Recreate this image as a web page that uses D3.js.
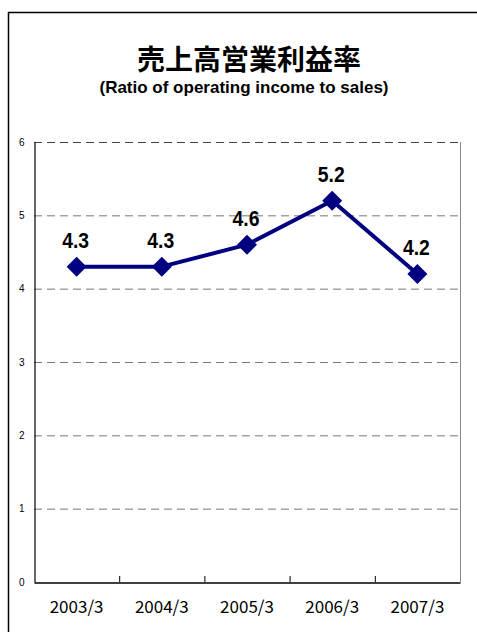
<!DOCTYPE html>
<html><head><meta charset="utf-8">
<script src="https://cdn.jsdelivr.net/npm/d3@7"></script>
<style>body{margin:0;background:#fff;}svg{display:block;}</style>
</head><body>
<script>
const categories = ["2003/3","2004/3","2005/3","2006/3","2007/3"];
const values = [4.3,4.3,4.6,5.2,4.2];
const valueLabels = ["4.3","4.3","4.6","5.2","4.2"];
const yTicks = [0,1,2,3,4,5,6];
const title = "売上高営業利益率";
const subtitle = "(Ratio of operating income to sales)";

const W=477,H=632;
const svg=d3.select("body").append("svg").attr("width",W).attr("height",H);
svg.append("rect").attr("x",8.5).attr("y",12.5).attr("width",W+20).attr("height",H+20)
  .attr("fill","#fff").attr("stroke","#000").attr("stroke-width",1.5);

const L=34,R=460,T=142,B=582;
const x=d3.scaleBand().domain(categories).range([L,R]);
const y=d3.scaleLinear().domain([0,6]).range([B,T]);

svg.append("text").attr("x",249).attr("y",70).attr("text-anchor","middle")
  .attr("font-family","Noto Sans CJK JP").attr("font-weight","bold").attr("font-size",28).text(title);
svg.append("text").attr("x",244).attr("y",93).attr("text-anchor","middle")
  .attr("font-family","Liberation Sans").attr("font-weight","bold").attr("font-size",17).text(subtitle);

// gridlines
svg.append("g").selectAll("line").data(yTicks.filter(d=>d>0)).join("line")
  .attr("x1",L).attr("x2",R).attr("y1",d=>y(d)+0.5).attr("y2",d=>y(d)+0.5)
  .attr("stroke",d=>d===6?"#444":"#777").attr("stroke-width",1).attr("stroke-dasharray","8,5");
// right border
svg.append("line").attr("x1",R+0.5).attr("x2",R+0.5).attr("y1",T).attr("y2",B).attr("stroke","#888");

// y axis
const ya=svg.append("g").attr("transform",`translate(${L+0.5},0)`)
  .call(d3.axisLeft(y).tickValues(yTicks).tickSize(0).tickPadding(10).tickFormat(d3.format("d")));
ya.select(".domain").attr("stroke","#000").attr("stroke-width",1.2);
ya.selectAll("text").attr("font-family","Liberation Sans").attr("font-size",10).attr("fill","#000");

// x axis
const xa=svg.append("g").attr("transform",`translate(0,${B+0.5})`)
  .call(d3.axisBottom(x).tickSize(0).tickPadding(18));
xa.select(".domain").attr("stroke","#000").attr("stroke-width",1.5);
xa.selectAll("text").attr("font-family","Noto Sans CJK JP").attr("font-size",17).attr("fill","#000");
svg.append("g").selectAll("line").data(categories.slice(1)).join("line")
  .attr("x1",d=>x(d)+0.5).attr("x2",d=>x(d)+0.5).attr("y1",B).attr("y2",B-6)
  .attr("stroke","#000");

const cx=d=>x(d)+x.bandwidth()/2;
const line=d3.line().x((d,i)=>cx(categories[i])).y(d=>y(d));
svg.append("path").datum(values).attr("d",line).attr("fill","none")
  .attr("stroke","#000080").attr("stroke-width",4).attr("stroke-linejoin","round");
svg.append("g").selectAll("path").data(values).join("path")
  .attr("transform",(d,i)=>`translate(${cx(categories[i])},${y(d)}) rotate(45)`)
  .attr("d",d3.symbol(d3.symbolSquare,200)()).attr("fill","#000080");

svg.append("g").selectAll("text").data(values).join("text")
  .attr("transform",(d,i)=>`translate(${cx(categories[i])-1},${y(d)-19}) scale(0.88,1)`)
  .attr("text-anchor","middle").attr("font-family","Liberation Sans")
  .attr("font-weight","bold").attr("font-size",22).text((d,i)=>valueLabels[i]);
</script>
</body></html>
